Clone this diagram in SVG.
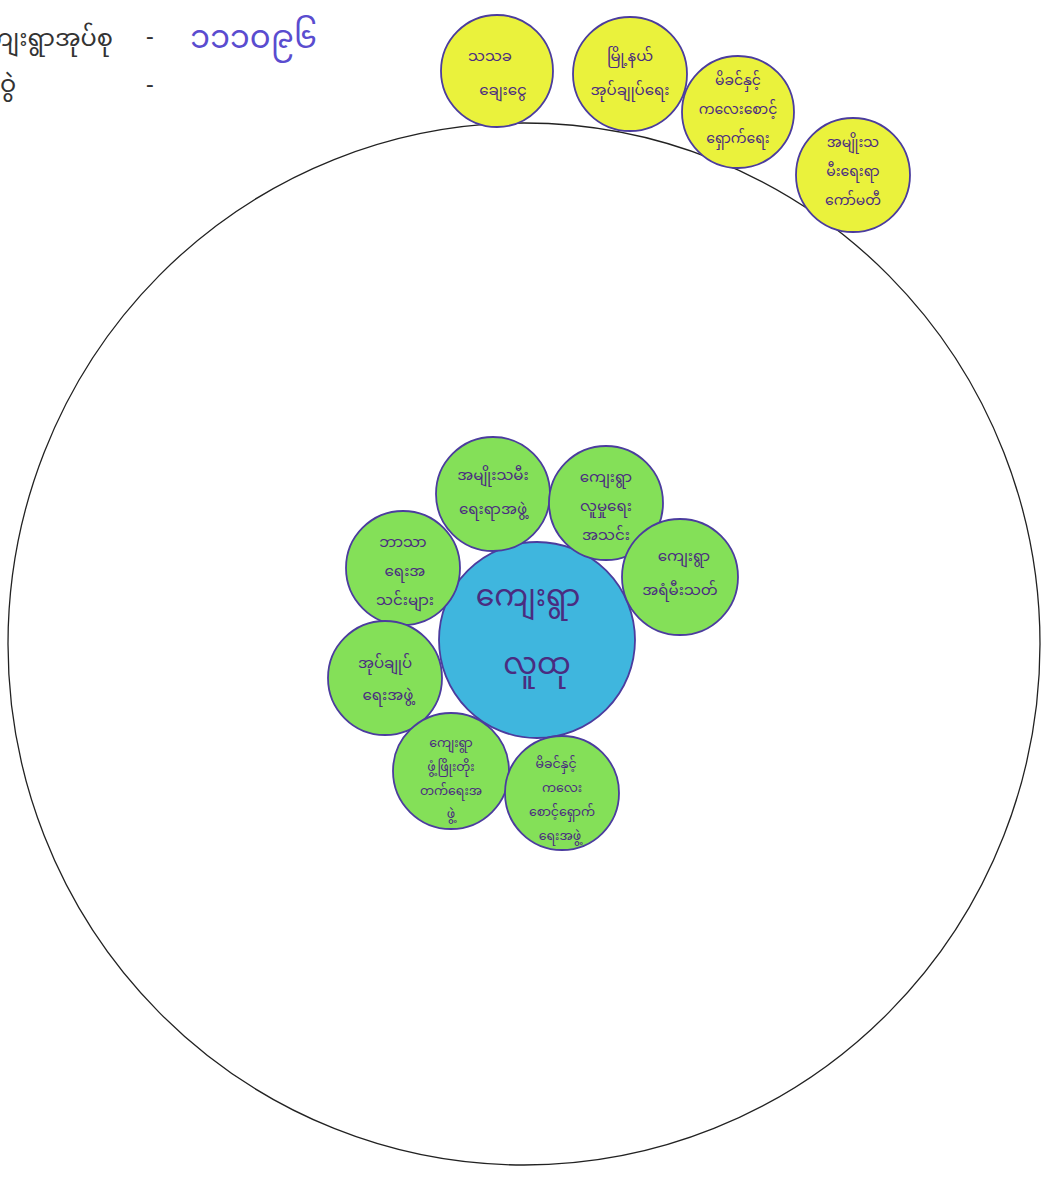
<svg xmlns="http://www.w3.org/2000/svg" width="1048" height="1179" viewBox="0 0 1048 1179">
<style>
.bg{fill:#ffffff}
.big{fill:none;stroke:#222222;stroke-width:1.3}
.y{fill:#eaf23c;stroke:#4b3c9e;stroke-width:1.8}
.g{fill:#84e058;stroke:#4b3c9e;stroke-width:1.8}
.b{fill:#3fb6de;stroke:#4b3c9e;stroke-width:1.8}
.t{font-family:"Noto Sans Myanmar","Padauk","Myanmar Text","Noto Sans","DejaVu Sans",sans-serif;fill:#4a2c80;text-anchor:middle;font-size:15px}
.s{font-size:14px}
.xs{font-size:12.5px}
.tc{font-size:30px}
.hd{font-family:"Noto Sans Myanmar","Padauk","Noto Sans","DejaVu Sans",sans-serif;fill:#333333;font-size:24px}
.hn{font-family:"Noto Sans Myanmar","Padauk","Noto Sans","DejaVu Sans",sans-serif;fill:#5a4ccf;font-size:32px}
</style>
<rect class="bg" x="0" y="0" width="1048" height="1179"/>
<g id="header">
<text class="hd" x="113" y="46" text-anchor="end">ကျေးရွာအုပ်စု</text>
<text class="hd" x="146" y="44">-</text>
<text class="hn" x="190" y="48">၁၁၁၀၉၆</text>
<text class="hd" x="0" y="92">ဝွဲ</text>
<text class="hd" x="146" y="92">-</text>
</g>
<g id="community">
<ellipse class="big" cx="524" cy="644" rx="516" ry="521"/>
</g>
<g id="y1"><circle class="y" cx="497" cy="71" r="56"/><text class="t"><tspan x="490" y="61">သသခ</tspan><tspan x="503" y="95">ချေးငွေ</tspan></text></g>
<g id="y2"><circle class="y" cx="630" cy="74" r="57"/><text class="t"><tspan x="630" y="61">မြို့နယ်</tspan><tspan x="630" y="95">အုပ်ချုပ်ရေး</tspan></text></g>
<g id="y3"><circle class="y" cx="738" cy="112" r="56"/><text class="t s"><tspan x="738" y="85">မိခင်နှင့်</tspan><tspan x="738" y="114">ကလေးစောင့်</tspan><tspan x="738" y="143">ရှောက်ရေး</tspan></text></g>
<g id="y4"><circle class="y" cx="853" cy="175" r="57"/><text class="t s"><tspan x="853" y="147">အမျိုးသ</tspan><tspan x="853" y="176">မီးရေးရာ</tspan><tspan x="853" y="205">ကော်မတီ</tspan></text></g>
<g id="center"><circle class="b" cx="537" cy="640" r="98"/><text class="t tc"><tspan x="528" y="606">ကျေးရွာ</tspan><tspan x="537" y="674">လူထု</tspan></text></g>
<g id="g1"><circle class="g" cx="493" cy="494" r="57"/><text class="t"><tspan x="493" y="480">အမျိုးသမီး</tspan><tspan x="493" y="514">ရေးရာအဖွဲ့</tspan></text></g>
<g id="g2"><circle class="g" cx="606" cy="503" r="57"/><text class="t"><tspan x="606" y="482">ကျေးရွာ</tspan><tspan x="606" y="511">လူမှုရေး</tspan><tspan x="606" y="540">အသင်း</tspan></text></g>
<g id="g3"><circle class="g" cx="680" cy="577" r="58"/><text class="t"><tspan x="684" y="561">ကျေးရွာ</tspan><tspan x="680" y="595">အရံမီးသတ်</tspan></text></g>
<g id="g4"><circle class="g" cx="403" cy="568" r="57"/><text class="t"><tspan x="403" y="547">ဘာသာ</tspan><tspan x="405" y="576">ရေးအ</tspan><tspan x="405" y="605">သင်းများ</tspan></text></g>
<g id="g5"><circle class="g" cx="385" cy="678" r="57"/><text class="t"><tspan x="385" y="668">အုပ်ချုပ်</tspan><tspan x="388" y="700">ရေးအဖွဲ့</tspan></text></g>
<g id="g6"><circle class="g" cx="451" cy="771" r="58"/><text class="t xs"><tspan x="451" y="747">ကျေးရွာ</tspan><tspan x="451" y="771">ဖွံ့ဖြိုးတိုး</tspan><tspan x="451" y="795">တက်ရေးအ</tspan><tspan x="451" y="818">ဖွဲ့</tspan></text></g>
<g id="g7"><circle class="g" cx="562" cy="793" r="57"/><text class="t xs"><tspan x="556" y="768">မိခင်နှင့်</tspan><tspan x="562" y="792">ကလေး</tspan><tspan x="562" y="816">စောင့်ရှောက်</tspan><tspan x="560" y="840">ရေးအဖွဲ့</tspan></text></g>
</svg>
